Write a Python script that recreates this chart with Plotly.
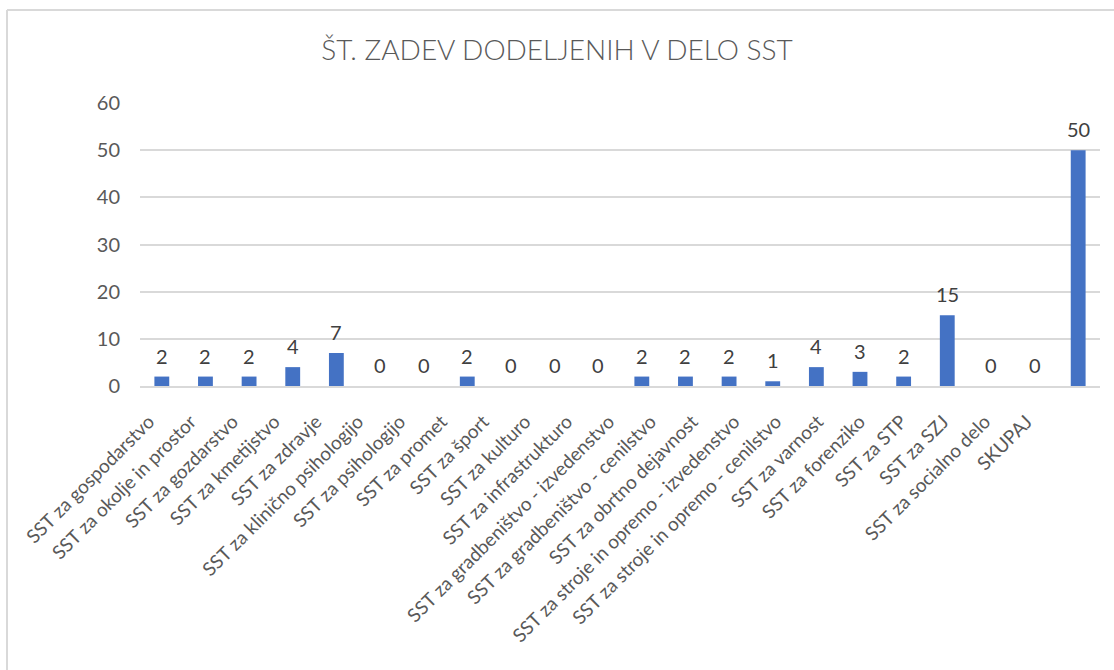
import plotly.graph_objects as go

categories = [
    "SST za gospodarstvo", "SST za okolje in prostor", "SST za gozdarstvo",
    "SST za kmetijstvo", "SST za zdravje", "SST za klinično psihologijo",
    "SST za psihologijo", "SST za promet", "SST za šport", "SST za kulturo",
    "SST za infrastrukturo", "SST za gradbeništvo - izvedenstvo",
    "SST za gradbeništvo - cenilstvo", "SST za obrtno dejavnost",
    "SST za stroje in opremo - izvedenstvo", "SST za stroje in opremo - cenilstvo",
    "SST za varnost", "SST za forenziko", "SST za STP", "SST za SZJ",
    "SST za socialno delo", "SKUPAJ",
]
values = [2, 2, 2, 4, 7, 0, 0, 2, 0, 0, 0, 2, 2, 2, 1, 4, 3, 2, 15, 0, 0, 50]
y_ticks = [0, 10, 20, 30, 40, 50, 60]

FONT = "Lato, Carlito, Calibri, sans-serif"

fig = go.Figure()
fig.add_trace(go.Bar(
    x=categories, y=values,
    marker=dict(color="#4472C4", line=dict(width=0)),
    hoverinfo="skip",
))
# invisible trace that carries the category labels (Excel spaces them slightly tighter)
fig.add_trace(go.Scatter(
    x=categories, y=values, xaxis="x2", yaxis="y2", mode="markers",
    marker=dict(opacity=0), hoverinfo="skip", showlegend=False,
))

annotations = [
    dict(x=c, y=v, xref="x", yref="y", text=str(v), showarrow=False,
         yanchor="bottom", yshift=7,
         font=dict(family=FONT, size=20, color="#404040"))
    for c, v in zip(categories, values)
]

L, R, T, B = 140, 14, 103, 284
W, H = 1114, 670
pw = W - L - R
ph = H - T - B

n = len(categories)
lab_step = 41.8
lab_start = 146.1 - L
dom2 = [lab_start / pw, (lab_start + lab_step * n) / pw]

fig.update_layout(
    width=W, height=H,
    margin=dict(l=L, r=R, t=T, b=B, autoexpand=False),
    paper_bgcolor="white", plot_bgcolor="rgba(0,0,0,0)",
    bargap=0.66,
    showlegend=False,
    annotations=annotations,
    title=dict(text="ŠT. ZADEV DODELJENIH V DELO SST", x=0.5, xanchor="center",
               y=1 - 50 / H, yanchor="middle",
               font=dict(family=FONT, size=28, color="#595959", weight=300)),
    xaxis=dict(showticklabels=False, range=[-0.5, n - 0.5],
               showgrid=False, showline=True, linecolor="#D9D9D9", linewidth=1.5,
               ticks="", automargin=False),
    xaxis2=dict(domain=dom2, anchor="y2", side="bottom",
                range=[-0.5, n - 0.5],
                tickangle=-45, tickfont=dict(family=FONT, size=19, color="#595959"),
                showgrid=False, showline=False, zeroline=False,
                ticks="", automargin=False, ticklabelshift=-18, ticklabelstandoff=20),
    yaxis=dict(range=[0, 60], tickvals=y_ticks, showgrid=True, gridcolor="#D9D9D9",
               gridwidth=1.5, zeroline=False, showline=False, ticks="",
               ticklabelstandoff=19,
               tickfont=dict(family=FONT, size=20, color="#595959"), automargin=False),
    yaxis2=dict(range=[0, 60], overlaying="y", showgrid=False, zeroline=False,
                showline=False, showticklabels=False, ticks="", automargin=False),
    shapes=[
        dict(type="line", xref="paper", yref="paper",
             x0=(7 - L) / pw, x1=(7 - L) / pw, y0=-(H - T) / ph - 0.1, y1=(H - 10 - B) / ph,
             line=dict(color="#D9D9D9", width=2)),
        dict(type="line", xref="paper", yref="paper",
             x0=(7 - L) / pw, x1=(W - L + 5) / pw, y0=(H - 10 - B) / ph, y1=(H - 10 - B) / ph,
             line=dict(color="#D9D9D9", width=2)),
    ],
)

fig.write_html("out.html", config={"displayModeBar": False},
               post_script="document.body.style.margin='0';document.body.style.overflow='hidden';")
